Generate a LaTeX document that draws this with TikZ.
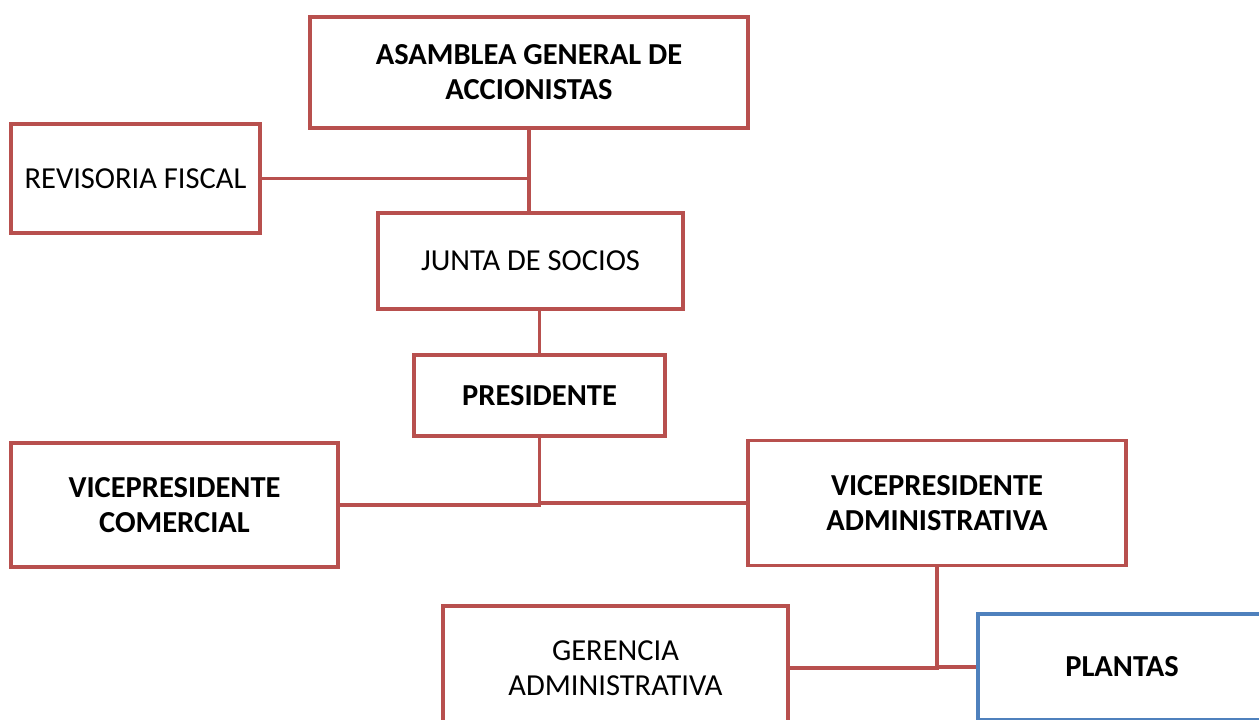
\documentclass[tikz,border=0pt]{standalone}
\usepackage{fontspec}
\setmainfont{Carlito}
\definecolor{rojo}{RGB}{184,80,78}
\definecolor{azul}{RGB}{79,129,189}

\begin{document}
\begin{tikzpicture}[x=1pt,y=-1pt]
					\useasboundingbox (0,0) rectangle (1259,720);
					\clip (0,0) rectangle (1259,720);
					\tikzstyle{cargo}=[draw=rojo, line width=3.5pt, fill=white, align=center,
						inner sep=0pt, font=\fontsize{30.5}{35}\selectfont];
					\tikzstyle{negrita}=[font=\fontsize{30.5}{35}\selectfont\bfseries];
					\tikzstyle{linea}=[draw=rojo, line width=3.5pt];
					\path (529,72.5) node[cargo, negrita, minimum width=438pt, minimum height=111pt] (asamblea) {ASAMBLEA GENERAL DE\\ACCIONISTAS};
					\path (135.5,178.5) node[cargo, minimum width=249pt, minimum height=109pt] (revisoria) {REVISORIA FISCAL};
					\path (530.5,261) node[cargo, minimum width=305pt, minimum height=96pt] (junta) {JUNTA DE SOCIOS};
					\path (539.5,395.5) node[cargo, negrita, minimum width=251pt, minimum height=81pt] (presidente) {PRESIDENTE};
					\path (174.5,505) node[cargo, negrita, minimum width=327pt, minimum height=124pt] (vicecom) {VICEPRESIDENTE\\COMERCIAL};
					\path (937,503) node[cargo, negrita, minimum width=378pt, minimum height=125pt] (viceadm) {VICEPRESIDENTE\\ADMINISTRATIVA};
					\path (615.5,668) node[cargo, minimum width=345pt, minimum height=124pt] (gerencia) {GERENCIA\\ADMINISTRATIVA};
					\path (1122,667) node[cargo, negrita, draw=azul, minimum width=288pt, minimum height=106pt] (plantas) {PLANTAS};
					\draw[linea] (asamblea.south) -- (asamblea.south |- junta.north);
					\draw[linea] (revisoria.east) -- (revisoria.east -| asamblea.south);
					\draw[linea] (junta.south -| presidente.north) -- (presidente.north);
					\draw[linea] (presidente.south) -- (presidente.south |- vicecom.east);
					\draw[linea] (vicecom.east) -- (vicecom.east -| presidente.south) -- (presidente.south |- viceadm.west) -- (viceadm.west);
					\draw[linea] (viceadm.south) -- (viceadm.south |- gerencia.east);
					\draw[linea] (gerencia.east) -- (gerencia.east -| viceadm.south) -- (viceadm.south |- plantas.west) -- (plantas.west);
					\end{tikzpicture}
\end{document}
